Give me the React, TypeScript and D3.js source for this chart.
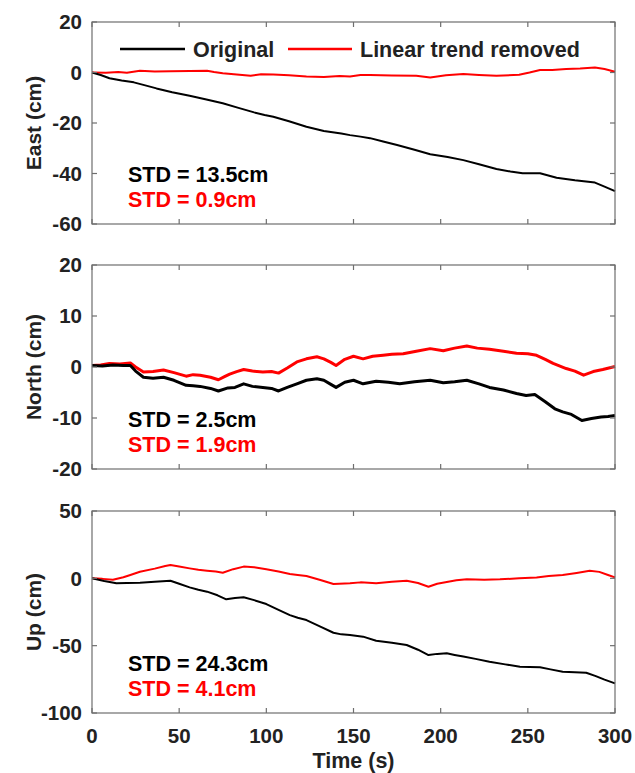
import React from "react";
import * as d3 from "d3";

type Pt = [number, number];

const timeTicks = [0, 50, 100, 150, 200, 250, 300];
const eastTicks = [20, 0, -20, -40, -60];
const northTicks = [20, 10, 0, -10, -20];
const upTicks = [50, 0, -50, -100];

const legendLabels = ["Original", "Linear trend removed"];

const eastOriginal: Pt[] = [
  [0, 0], [5, -1.0], [10, -2.3], [17, -3.2], [24, -3.9], [30, -5.0], [37, -6.3], [46, -7.8], [56, -9.2],
  [65, -10.6], [75, -12.2], [84, -14.0], [93, -15.8], [99, -16.8], [104, -17.5], [113, -19.3], [123, -21.5],
  [133, -23.2], [143, -24.2], [148, -24.8], [154, -25.4], [159.5, -26], [167, -27.3], [175, -28.7],
  [185, -30.6], [194, -32.4], [204, -33.5], [213, -34.7], [222, -36.3], [232, -38.2], [240, -39.2],
  [247, -39.9], [257, -39.9], [266.5, -41.7], [277, -42.7], [288.5, -43.6], [294, -45.2], [300, -47.0],
];
const eastDetrended: Pt[] = [
  [0, 0], [8, -0.1], [15, 0.2], [20, -0.1], [27.5, 0.7], [36, 0.4], [45, 0.5], [56, 0.6], [66, 0.7],
  [70, 0.2], [75, -0.3], [83, -0.8], [91, -1.3], [97, -0.7], [104, -0.8], [113, -1.1], [123, -1.6],
  [133, -1.8], [142, -1.4], [148, -1.6], [154, -1.0], [159.5, -1.0], [172, -1.2], [186, -1.3],
  [194, -2.0], [203, -1.1], [213, -0.6], [222, -1.0], [232, -1.3], [245, -0.9], [251, 0.0],
  [257, 1.0], [264, 1.0], [272, 1.4], [280, 1.6], [288.5, 2.0], [294, 1.4], [300, 0.3],
];

const northOriginal: Pt[] = [
  [0, 0.3], [6, 0.2], [12, 0.4], [18, 0.3], [22, 0.3], [25, -0.8], [29.5, -2.0], [35, -2.2], [41, -2.0],
  [47, -2.6], [54, -3.6], [58, -3.7], [62, -3.8], [68, -4.2], [72.5, -4.7], [78, -4.1], [82, -4.0],
  [87, -3.3], [92, -3.8], [98, -4.0], [103, -4.2], [107, -4.7], [112, -4.0], [117.5, -3.3], [123, -2.6],
  [129, -2.3], [133, -2.6], [137, -3.4], [140, -4.0], [145, -3.0], [150, -2.6], [155.5, -3.3],
  [163, -2.8], [170, -3.0], [176.5, -3.3], [185, -2.9], [194, -2.6], [201.5, -3.1], [208, -2.9],
  [215, -2.6], [222, -3.3], [228, -4.0], [236, -4.5], [243.5, -5.2], [249, -5.6], [254, -5.4],
  [260, -6.8], [265.5, -8.2], [270, -8.8], [275, -9.3], [281, -10.5], [286.5, -10.1], [292, -9.8],
  [296, -9.7], [300, -9.5],
];
const northDetrended: Pt[] = [
  [0, 0.3], [5, 0.4], [10, 0.7], [16, 0.6], [22, 0.8], [25, 0.0], [29.5, -1.0], [35, -0.9], [41, -0.6],
  [47, -1.1], [54, -1.8], [58, -1.5], [62, -1.6], [68, -2.0], [72.5, -2.5], [76, -1.9], [79, -1.4],
  [83, -0.9], [87, -0.5], [92, -0.8], [98, -1.0], [103, -0.9], [107, -1.2], [112, -0.2], [117.5, 1.0],
  [123, 1.6], [129, 2.0], [133, 1.6], [137, 0.9], [140, 0.3], [145, 1.5], [150, 2.1], [155.5, 1.6],
  [161, 2.1], [167, 2.3], [172, 2.5], [178.5, 2.6], [186, 3.1], [194, 3.6], [201.5, 3.2], [208, 3.7],
  [215, 4.1], [221, 3.7], [228, 3.5], [236, 3.1], [243.5, 2.7], [250, 2.6], [255, 2.3], [260, 1.5],
  [264.5, 0.7], [272, -0.3], [277, -0.8], [282, -1.6], [287.5, -0.9], [293, -0.5], [300, 0.1],
];

const upOriginal: Pt[] = [
  [0, 0], [7, -2.0], [14, -3.7], [20, -3.5], [27.5, -3.2], [36, -2.6], [45, -1.8], [50, -4.0],
  [56, -6.7], [61, -8.5], [66, -9.9], [72, -12.6], [77, -15.6], [82, -14.6], [87, -14.1], [93, -16.2],
  [100, -19.1], [107, -23.4], [113.5, -27.3], [118, -29.3], [123, -31.0], [131, -35.8], [138.5, -40.4],
  [143, -41.6], [148, -42.1], [155.5, -43.3], [163, -46.3], [172, -47.8], [180.5, -49.5], [187, -53.0],
  [193, -57.0], [198, -56.1], [203.5, -55.7], [208, -56.9], [213, -58.1], [220, -59.8], [228, -61.9],
  [237, -63.9], [245.5, -65.6], [251, -65.9], [257, -66.1], [263, -67.6], [270, -69.3], [277, -69.8],
  [283.5, -70.1], [289, -72.6], [294, -75.2], [300, -78.0],
];
const upDetrended: Pt[] = [
  [0, 0], [6, -0.4], [12, -1.0], [18, 0.8], [22, 2.5], [27.5, 4.9], [36, 7.2], [42, 9.2], [45, 9.9],
  [50, 8.8], [56, 7.4], [61, 6.3], [66, 5.6], [71, 5.0], [75, 4.2], [81, 6.8], [87, 8.7], [93, 8.3],
  [100, 6.7], [107, 5.0], [113.5, 3.2], [118, 2.5], [123, 1.7], [131, -1.2], [138.5, -4.2], [145, -3.8],
  [148, -3.7], [154, -3.0], [163, -3.7], [172, -2.6], [180.5, -1.8], [187, -3.5], [193, -6.2],
  [198, -4.0], [203.5, -2.7], [209, -1.5], [215, -0.7], [225, -1.0], [234, -0.7], [245, 0.0],
  [255, 0.7], [262, 1.7], [270, 2.5], [278, 4.0], [285.5, 5.6], [291, 4.8], [296, 2.5], [300, 0.7],
];

const stdOriginal = ["STD = 13.5cm", "STD = 2.5cm", "STD = 24.3cm"];
const stdDetrended = ["STD = 0.9cm", "STD = 1.9cm", "STD = 4.1cm"];
const axisLabels = ["East (cm)", "North (cm)", "Up (cm)"];

const FONT = "'Liberation Sans', Arial, sans-serif";
const LEFT = 92;
const RIGHT = 615;
const AXIS_COLOR = "#6e6e6e";
const TEXT_COLOR = "#222";
const RED = "#ff0000";

const panels = [
  { top: 22, bottom: 224, domain: [-60, 20], ticks: eastTicks, orig: eastOriginal, det: eastDetrended, lw: 2 },
  { top: 265, bottom: 469, domain: [-20, 20], ticks: northTicks, orig: northOriginal, det: northDetrended, lw: 3 },
  { top: 511, bottom: 713, domain: [-100, 50], ticks: upTicks, orig: upOriginal, det: upDetrended, lw: 2 },
];

export default function App() {
  const x = d3.scaleLinear().domain([0, 300]).range([LEFT, RIGHT]);
  return (
    <svg width={635} height={773} style={{ position: "absolute", left: 0, top: 0, background: "#fff" }} fontFamily={FONT}>
      <rect x={0} y={0} width={635} height={773} fill="#fff" />
      {panels.map((p, i) => {
        const y = d3.scaleLinear().domain(p.domain).range([p.bottom, p.top]);
        const line = d3.line<Pt>().x((d) => x(d[0])).y((d) => y(d[1]));
        const mid = (p.top + p.bottom) / 2;
        return (
          <g key={i}>
            <path d={line(p.det) ?? ""} fill="none" stroke={RED} strokeWidth={p.lw} strokeLinejoin="round" />
            <path d={line(p.orig) ?? ""} fill="none" stroke="#000" strokeWidth={p.lw} strokeLinejoin="round" />
            <rect x={LEFT} y={p.top} width={RIGHT - LEFT} height={p.bottom - p.top} fill="none" stroke={AXIS_COLOR} strokeWidth={1.2} />
            {timeTicks.map((t) => (
              <g key={t}>
                <line x1={x(t)} x2={x(t)} y1={p.bottom} y2={p.bottom - 5} stroke={AXIS_COLOR} strokeWidth={1.2} />
                <line x1={x(t)} x2={x(t)} y1={p.top} y2={p.top + 5} stroke={AXIS_COLOR} strokeWidth={1.2} />
              </g>
            ))}
            {p.ticks.map((v) => (
              <g key={v}>
                <line x1={LEFT} x2={LEFT + 5} y1={y(v)} y2={y(v)} stroke={AXIS_COLOR} strokeWidth={1.2} />
                <line x1={RIGHT} x2={RIGHT - 5} y1={y(v)} y2={y(v)} stroke={AXIS_COLOR} strokeWidth={1.2} />
                <text x={82} y={y(v)} dy="0.36em" textAnchor="end" fontSize={20.5} fontWeight="bold" fill={TEXT_COLOR}>
                  {v}
                </text>
              </g>
            ))}
            <text
              transform={`translate(41,${mid}) rotate(-90)`}
              textAnchor="middle"
              fontSize={21}
              fontWeight="bold"
              fill={TEXT_COLOR}
            >
              {axisLabels[i]}
            </text>
            <text x={128} y={p.bottom - 42} fontSize={21.5} fontWeight="bold" fill="#000">
              {stdOriginal[i]}
            </text>
            <text x={128} y={p.bottom - 17} fontSize={21.5} fontWeight="bold" fill={RED}>
              {stdDetrended[i]}
            </text>
          </g>
        );
      })}
      {timeTicks.map((t) => (
        <text key={t} x={x(t)} y={743} textAnchor="middle" fontSize={20.5} fontWeight="bold" fill={TEXT_COLOR}>
          {t}
        </text>
      ))}
      <text x={(LEFT + RIGHT) / 2} y={768} textAnchor="middle" fontSize={21.5} fontWeight="bold" fill={TEXT_COLOR}>
        Time (s)
      </text>
      <line x1={120} x2={185} y1={49} y2={49} stroke="#000" strokeWidth={2.5} />
      <text x={193} y={57} fontSize={21.5} fontWeight="bold" fill={TEXT_COLOR}>
        {legendLabels[0]}
      </text>
      <line x1={288} x2={352} y1={49} y2={49} stroke={RED} strokeWidth={2.5} />
      <text x={360} y={57} fontSize={21.5} fontWeight="bold" fill={TEXT_COLOR}>
        {legendLabels[1]}
      </text>
    </svg>
  );
}
